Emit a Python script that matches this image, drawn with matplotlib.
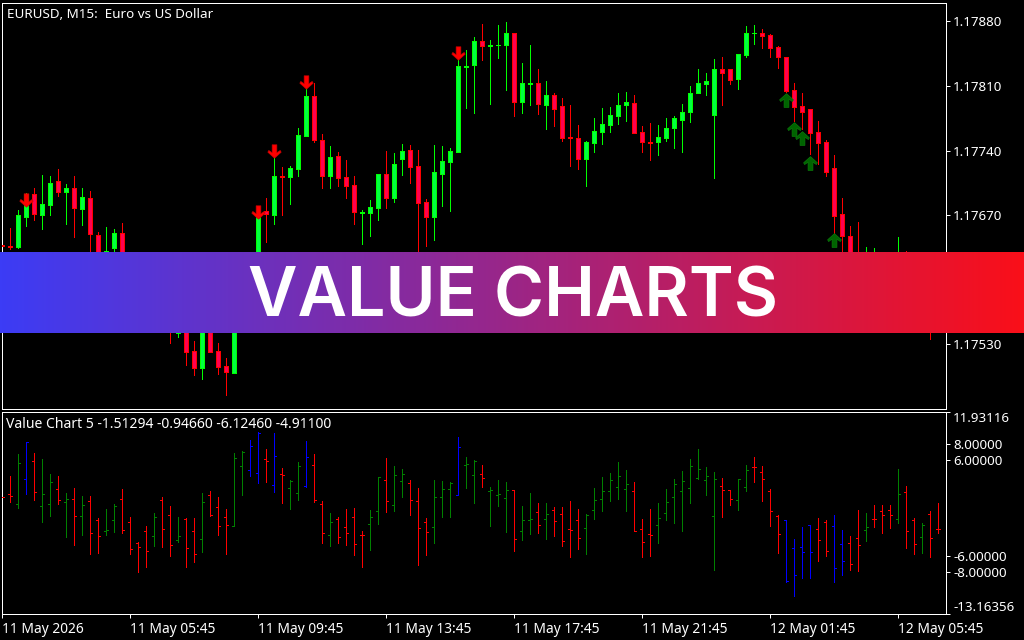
import numpy as np
import matplotlib
matplotlib.use("Agg")
import matplotlib.pyplot as plt
from matplotlib.path import Path

PRICE_BASE = 1.17
POINT = 1e-5
# Candles, in points above 1.17000 (O, H, L, C)
c_open = [638,637,636,668,693,670,681,707,695,699,677,689,649,629,635,651,623,594,580,566,578,556,542,560,523,504,548,523,507,499,
          575,600,620,675,670,713,711,720,756,799,752,713,734,711,703,672,672,678,715,689,731,741,723,684,668,715,728,739,831,833,
          859,853,854,854,868,793,812,813,790,800,788,755,754,731,748,760,768,778,789,792,760,749,749,754,764,773,782,803,812,779,
          829,829,818,844,867,868,865,852,842,806,788,785,760,749,721,671,648,621,600,615,625,600,590,605,570,565,575,550]
c_high = [639,656,676,694,700,714,713,720,704,712,700,696,652,657,655,662,630,600,592,590,590,570,575,575,534,560,562,532,515,580,
          612,625,672,689,733,722,723,764,807,813,758,745,738,730,713,676,687,715,740,737,747,746,741,688,746,745,743,839,849,863,
          877,860,876,879,868,835,854,828,816,803,797,790,768,750,775,786,787,802,804,800,767,770,768,775,778,791,810,829,824,839,
          841,829,845,875,876,872,866,853,842,813,803,785,772,751,735,689,658,663,636,634,628,625,646,631,600,590,590,590]
c_low = [636,633,634,658,665,655,670,691,660,646,659,625,619,610,619,610,590,560,555,550,550,532,538,508,497,493,522,498,475,499,
         560,580,610,641,660,670,682,712,756,749,700,699,702,689,661,639,647,665,678,684,714,705,629,637,643,680,675,739,786,781,
         838,791,840,806,777,781,790,780,763,767,750,723,720,702,738,747,760,769,772,759,738,730,735,750,743,738,771,803,800,710,
         790,812,807,841,856,851,841,830,804,772,763,736,726,713,651,631,610,590,590,590,580,570,560,555,550,545,536,545]
c_close = [637,636,670,693,671,682,705,695,699,678,690,650,621,631,651,623,594,580,566,578,556,547,560,522,504,550,522,506,500,575,
           600,620,668,671,713,711,721,757,799,751,712,733,710,702,673,673,679,715,689,726,740,722,683,668,717,729,740,832,832,859,
           853,854,855,868,793,813,813,791,800,785,754,754,731,749,761,769,779,790,793,759,749,748,755,765,775,782,803,813,816,829,
           824,817,845,868,868,864,851,841,805,787,782,759,748,717,669,647,621,600,620,625,600,590,600,570,565,575,550,548]

down_idx = [3, 32, 34, 38, 57]
down_pts = [686, 674, 740, 814, 846]
up_idx = [98, 99, 100, 101, 104]
up_pts = [795, 763, 754, 727, 643]
price_labels = [1.17880, 1.17810, 1.17740, 1.17670, 1.17600, 1.17530]

# Value Chart OHLC
v_open = [1.37,1.74,.50,3.60,5.88,.25,.50,2.36,.79,1.16,-.95,.91,-1.45,-2.82,-1.45,1.12,-1.70,-4.31,-2.86,-3.48,1.04,-.87,-3.93,-1.37,-2.86,-3.85,1.61,.12,-1.12,-2.24,
          5.26,4.72,4.35,6.09,2.86,4.27,2.53,1.90,2.73,5.38,.50,-3.35,-1.37,-2.36,-1.12,-3.35,-1.99,-.37,3.48,.37,3.35,3.11,.87,-1.74,-2.36,1.41,2.36,1.57,5.38,4.10,
          4.22,2.15,1.66,1.24,2.24,-2.86,-1.49,-.50,-1.37,-.25,-.75,-2.61,-1.49,-2.48,-.25,1.12,2.11,2.61,2.32,2.11,-2.61,-3.23,-2.11,-.62,1.37,2.11,2.48,3.73,3.48,-.99,
          2.73,2.24,.99,2.61,5.09,4.47,2.15,-.99,-1.53,-4.97,-4.84,-2.11,-2.61,-1.74,-2.24,-4.47,-4.35,-3.73,-2.73,-1.37,-.37,-.25,-1.37,1.99,-1.49,-3.60,-.75,-2.61]
v_high = [1.40,4.02,6.75,8.20,6.87,6.13,4.27,4.02,1.90,2.53,1.53,1.53,-1.20,-.08,.54,2.40,-1.08,-4.18,-2.19,-.58,1.41,.29,-1.08,-1.20,-1.20,1.90,2.15,1.41,-.08,6.87,
          7.12,8.49,9.48,7.37,9.36,5.01,3.52,5.76,8.36,6.75,.91,-.58,-1.08,-.08,.04,-2.82,-.21,3.89,6.25,5.26,4.89,3.52,2.53,-1.20,3.52,3.40,3.27,8.86,6.38,6.00,
          5.38,2.65,3.52,3.27,2.24,.29,1.90,.66,.66,.17,.17,.91,-.08,-.75,2.53,3.89,4.39,5.76,4.76,3.27,-1.33,-.08,.66,2.40,3.64,4.64,6.13,7.37,5.13,4.51,
          3.77,2.24,3.60,5.38,6.38,5.22,2.40,-.87,-1.49,-3.81,-2.32,-2.11,-1.20,-1.45,-.83,-2.69,-3.44,-.21,-.58,.41,.41,.41,4.89,2.77,-1.20,-1.82,-.33,.66]
v_low = [1.30,.79,.04,1.78,1.04,-1.70,-.95,.54,-3.56,-4.56,-3.31,-5.67,-5.55,-3.31,-2.94,-3.06,-5.67,-7.95,-7.29,-4.68,-4.80,-5.92,-4.18,-7.29,-6.67,-5.42,-.95,-3.31,-5.67,-2.24,
         1.66,4.02,3.15,3.27,2.03,.66,-.08,1.04,2.65,.79,-4.31,-4.68,-4.31,-4.56,-5.80,-7.29,-5.18,-1.95,-.46,-.33,1.41,-.83,-7.04,-5.80,-4.31,-1.08,-1.08,1.57,2.53,.66,
         2.65,-2.19,.29,-2.94,-5.30,-3.93,-3.19,-3.06,-3.81,-3.44,-4.68,-6.05,-5.05,-5.71,-1.33,-.33,.91,1.16,-.33,-2.86,-6.05,-5.92,-4.31,-1.45,-1.82,-2.82,.66,3.64,1.66,-7.66,
         -1.08,.41,-.21,2.11,3.27,.91,-2.19,-5.55,-9.19,-10.93,-8.65,-8.65,-6.54,-5.92,-9.15,-8.28,-7.66,-7.79,-4.06,-2.32,-3.06,-2.44,-1.82,-4.93,-5.67,-5.55,-6.05,-3.06]
v_close = [1.37,1.49,5.63,8.20,2.03,1.78,3.23,.99,1.12,-.99,.37,-3.11,-3.48,-2.73,.29,-2.73,-5.09,-4.84,-5.34,-1.16,-2.61,-4.60,-3.48,-4.93,-5.76,.79,-.91,-2.28,-2.11,6.21,
           6.96,7.74,9.36,5.88,6.50,4.14,3.40,5.22,6.34,1.04,-3.11,-1.74,-3.64,-3.11,-4.47,-3.35,-1.12,3.85,.87,4.10,4.27,.99,-2.48,-2.98,1.37,2.36,3.11,7.62,5.47,5.84,
           3.73,2.24,1.74,2.24,-3.81,-1.49,-1.37,-2.11,-.75,-1.61,-4.10,-2.73,-3.73,-.87,.99,2.11,3.48,3.98,2.98,-2.86,-4.22,-3.35,-1.24,.75,2.98,3.35,5.26,4.84,3.98,3.60,
           2.24,1.12,3.60,4.72,5.09,3.60,-.37,-3.23,-9.07,-8.32,-5.47,-5.47,-3.93,-5.34,-7.41,-6.58,-6.96,-4.60,-2.36,-1.37,-.87,-.87,1.74,-2.86,-4.47,-2.07,-3.73,-2.61]

value_ticks = [11.93116, 8.0, 6.0, -6.0, -8.0, -13.16356]
time_idx = [0, 16, 32, 48, 64, 80, 96, 112]
time_labels = ["11 May 2026", "11 May 05:45", "11 May 09:45", "11 May 13:45",
               "11 May 17:45", "11 May 21:45", "12 May 01:45", "12 May 05:45"]
banner_title = "VALUE CHARTS"
banner_left = (60, 60, 245)
banner_right = (250, 15, 25)

W, H = 1024, 640
UI = "Noto Sans"
FS = 9.6
PX = 72 / 100


def box(x0, y0, x1, y1):
    return [x0 / W, 1 - y1 / H, (x1 - x0) / W, (y1 - y0) / H]


fig = plt.figure(figsize=(W / 100, H / 100), dpi=100, facecolor="black")
ax = fig.add_axes(box(2, 3, 946, 409), facecolor="black")
ax2 = fig.add_axes(box(2, 412, 946, 614), facecolor="black")

for a in (ax, ax2):
    a.set_xlim(0, 118)
    for s in a.spines.values():
        s.set_color("white")
        s.set_linewidth(PX)
    a.yaxis.tick_right()
    a.tick_params(axis="y", colors="white", length=3, width=PX, pad=2.2,
                  labelsize=FS, labelfontfamily=UI)

# candles
to_price = lambda seq: PRICE_BASE + np.asarray(seq, float) * POINT
o, h, l, c = map(to_price, (c_open, c_high, c_low, c_close))
x = np.arange(len(o))
up = c >= o
wick = np.where(up, "#00FF00", "#FF0000")
lines = ax.vlines(x, l, h, colors=list(wick), linewidth=PX, zorder=2)
lines.set_antialiased(False)
lines.set_snap(True)
ax.bar(x[up], (c - o)[up], bottom=o[up], width=0.5, color="#00FF40", edgecolor="#00FF00",
       linewidth=PX, antialiased=False, zorder=3)
ax.bar(x[~up], (o - c)[~up], bottom=c[~up], width=0.5, color="#FF0050", edgecolor="#FF0000",
       linewidth=PX, antialiased=False, zorder=3)

arrow = np.array([(0, 1), (1, .1), (.85, -.15), (.35, .2), (.35, -1), (-.35, -1), (-.35, .2),
                  (-.85, -.15), (-1, .1), (0, 1)])
up_marker = Path(arrow, closed=True)
down_marker = Path(arrow * [1, -1], closed=True)
ax.plot(down_idx, to_price(down_pts), ls="none", marker=down_marker, ms=9.6,
        mfc="#FF0000", mec="#D00000", mew=0.5, zorder=5)
ax.plot(up_idx, to_price(up_pts), ls="none", marker=up_marker, ms=9.9,
        mfc="#006400", mec="#0A7A0A", mew=0.5, zorder=5)

ax.set_ylim(1.1746, 1.1790)
ax.set_yticks(price_labels)
ax.set_yticklabels([f"{p:.5f}" for p in price_labels])
ax.set_xticks([])
ax.annotate("EURUSD, M15:  Euro vs US Dollar", xy=(0, 1), xycoords="axes fraction",
            xytext=(5 * PX, -11 * PX), textcoords="offset points", color="white",
            fontsize=9.7, family=UI, va="center", ha="left")

# indicator
vo, vh, vl, vc = map(lambda s: np.asarray(s, float), (v_open, v_high, v_low, v_close))
vx = np.arange(len(vo))
col = list(np.where((vh > 8) | (vl < -8), "#0000FF", np.where(vc > vo, "#008000", "#FF0000")))
for seg in (ax2.vlines(vx, vl, vh, colors=col, linewidth=PX, zorder=2),
            ax2.hlines(vo, vx - 0.25, vx, colors=col, linewidth=PX, zorder=3),
            ax2.hlines(vc, vx, vx + 0.25, colors=col, linewidth=PX, zorder=3)):
    seg.set_antialiased(False)
    seg.set_snap(True)
ax2.set_ylim(-13.16356, 11.93116)
ax2.set_yticks(value_ticks)
ax2.set_yticklabels([f"{v:.5f}" for v in value_ticks])
tl = ax2.get_yticklabels()
tl[0].set_va("top")
tl[-1].set_va("bottom")
ax2.set_xticks(time_idx)
ax2.set_xticklabels(time_labels, ha="left", fontsize=9.9, family=UI, color="white")
ax2.tick_params(axis="x", colors="white", length=3, width=PX, pad=2.5)
ax2.annotate("Value Chart 5 -1.51294 -0.94660 -6.12460 -4.91100", xy=(0, 1),
             xycoords="axes fraction", xytext=(4 * PX, -12.5 * PX), textcoords="offset points",
             color="white", fontsize=10.05, family=UI, va="center", ha="left")

# banner
bax = fig.add_axes(box(0, 252, 1024, 333), zorder=10)
grad = np.linspace(banner_left, banner_right, 512)[None, :, :] / 255
bax.imshow(grad, aspect="auto", extent=(0, 1, 0, 1))
bax.axis("off")
bax.text(0.5014, 0.43, banner_title, color="white", ha="center", va="center",
         fontsize=49, family="Inter", fontweight="semibold")

fig.savefig("out.png", dpi=100, facecolor="black")
